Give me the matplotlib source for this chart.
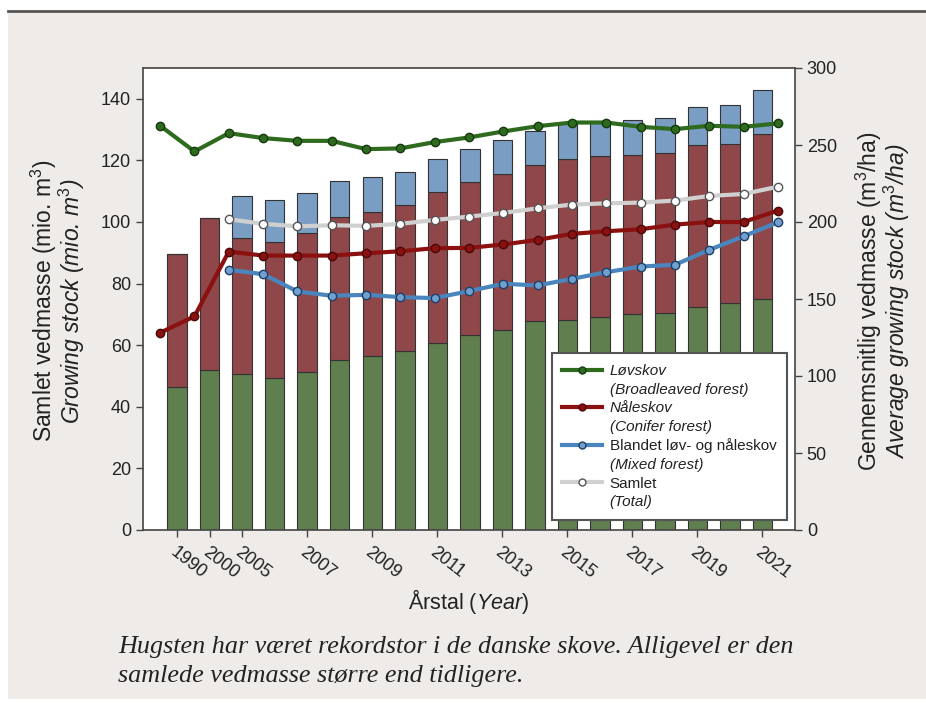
import numpy as np
import matplotlib
matplotlib.use("Agg")
import matplotlib.pyplot as plt
from matplotlib.lines import Line2D
from matplotlib.patches import Rectangle

# data
years = ["1990", "2000", "2005", "2006", "2007", "2008", "2009", "2010", "2011", "2012",
         "2013", "2014", "2015", "2016", "2017", "2018", "2019", "2020", "2021"]
shown = ["1990", "2000", "2005", "2007", "2009", "2011", "2013", "2015", "2017", "2019", "2021"]

# growing stock, mio. m3 (stacked)
broad = [46.4, 52.1, 50.7, 49.5, 51.3, 55.1, 56.4, 58.1, 60.7, 63.2,
         64.8, 67.7, 68.3, 69.1, 70.0, 70.3, 72.4, 73.7, 75.1]
conifer = [43.1, 49.3, 44.0, 44.1, 45.0, 46.4, 46.8, 47.5, 49.2, 49.7,
           50.8, 50.9, 52.1, 52.4, 51.7, 52.0, 52.6, 51.6, 53.6]
mixed = [0, 0, 13.8, 13.6, 13.0, 11.7, 11.5, 10.7, 10.5, 10.8,
         11.0, 10.8, 11.9, 11.0, 11.4, 11.6, 12.2, 12.6, 14.1]

# average growing stock, m3/ha
avg_broad = [262.5, 245.8, 257.7, 254.5, 252.7, 252.7, 247.3, 247.8, 251.9, 254.9,
             258.8, 262.2, 264.6, 264.6, 261.8, 260.3, 262.5, 261.8, 264.0]
avg_conifer = [128.1, 138.7, 180.8, 178.2, 178.2, 178.2, 179.7, 181.0, 183.0, 183.2,
               185.4, 188.4, 192.3, 194.0, 195.3, 198.3, 200.0, 200.0, 207.4]
avg_mixed = [np.nan, np.nan, 169.0, 166.1, 154.9, 152.1, 152.7, 151.2, 150.6, 155.1,
             159.9, 158.8, 163.1, 167.4, 171.1, 172.2, 181.9, 190.7, 199.8]
avg_total = [np.nan, np.nan, 201.8, 198.8, 197.2, 197.9, 197.5, 198.8, 201.3, 203.5,
             205.9, 208.9, 211.3, 212.1, 212.6, 213.9, 216.9, 218.2, 222.9]

plt.rcParams['font.family'] = ['Liberation Sans', 'DejaVu Sans']
plt.rcParams['mathtext.fontset'] = 'custom'
plt.rcParams['mathtext.rm'] = 'Liberation Sans'
plt.rcParams['mathtext.it'] = 'Liberation Sans:italic'

W, H = 926, 703
fig = plt.figure(figsize=(W / 100, H / 100), dpi=100, facecolor='white')

# grey panel with dark rule on top
fig.patches.append(Rectangle((8 / W, 4 / H), 1 - 8 / W, (H - 11 - 4) / H,
                             transform=fig.transFigure, facecolor='#efebe9',
                             edgecolor='none', zorder=-10))
fig.add_artist(Line2D([8 / W, 1], [1 - 11 / H, 1 - 11 / H], transform=fig.transFigure,
                      color='#555555', lw=2))

pos = [143 / W, 1 - 530 / H, (795 - 143) / W, (530 - 68) / H]
ax = fig.add_axes(pos)
ax.set_facecolor('white')
x = np.arange(len(years))
b = np.array(broad)
c = np.array(conifer)
m = np.array(mixed)
kw = dict(width=0.6, edgecolor='#333333', linewidth=0.8)
ax.bar(x, b, color='#5f7f4f', **kw)
ax.bar(x, c, bottom=b, color='#8f4749', **kw)
ax.bar(x, m, bottom=b + c, color='#7a9dc4', **kw)
ax.set_xlim(-1.05, 19)
ax.set_ylim(0, 150)
ax.set_yticks(range(0, 141, 20))
ticks = [years.index(s) for s in shown]
ax.set_xticks(ticks)
ax.set_xticklabels(shown, rotation=-38, ha='left', va='top', rotation_mode='anchor')
ax.tick_params(axis='both', labelsize=13, color='#444444', labelcolor='#222222',
               length=5, width=1)
ax.tick_params(axis='x', pad=5)
for s in ax.spines.values():
    s.set_color('#444444')
    s.set_linewidth(1.2)

ax2 = fig.add_axes(pos, frameon=False)
xi = np.arange(len(years))
ax2.plot(xi, avg_broad, color='#2e6b1f', lw=3, marker='o', ms=6,
         mfc='#2e6b1f', mec='#173a0e', mew=1)
ax2.plot(xi, avg_conifer, color='#8b1010', lw=3, marker='o', ms=6,
         mfc='#8b1010', mec='#4a0808', mew=1)
ax2.plot(xi, avg_mixed, color='#4a86bd', lw=3, marker='o', ms=6,
         mfc='#6fa0cf', mec='#1f3f66', mew=1)
ax2.plot(xi, avg_total, color='#d0d0d0', lw=3, marker='o', ms=6,
         mfc='white', mec='#555555', mew=1)
ax2.set_xlim(-0.5, 18.5)
ax2.set_ylim(0, 300)
ax2.set_xticks([])
ax2.yaxis.tick_right()
ax2.set_yticks(range(0, 301, 50))
ax2.tick_params(axis='y', labelsize=13, color='#444444', labelcolor='#222222',
                length=5, width=1)

# legend: one line per row, second rows without a handle
def h(col, mfc, mec):
    return Line2D([], [], color=col, lw=3, marker='o', ms=5, mfc=mfc, mec=mec, mew=1)
blank = Line2D([], [], linestyle='none')
handles = [h('#2e6b1f', '#2e6b1f', '#173a0e'), blank,
           h('#8b1010', '#8b1010', '#4a0808'), blank,
           h('#4a86bd', '#6fa0cf', '#1f3f66'), blank,
           h('#d0d0d0', 'white', '#555555'), blank]
labels = ["Løvskov", "(Broadleaved forest)", "Nåleskov", "(Conifer forest)",
          "Blandet løv- og nåleskov", "(Mixed forest)", "Samlet", "(Total)"]
leg = ax2.legend(handles, labels, loc='lower right', bbox_to_anchor=(0.988, 0.022),
                 borderaxespad=0, fontsize=11, labelspacing=0.3, handlelength=2.6,
                 handletextpad=0.5, fancybox=False, framealpha=1, edgecolor='#555555',
                 borderpad=0.7)
leg.get_frame().set_linewidth(1.5)
for i, t in enumerate(leg.get_texts()):
    t.set_color('#222222')
    if i not in (4, 6):
        t.set_fontstyle('italic')

# axis titles
cy = 1 - 301 / H
fig.text(44 / W, cy, "Samlet vedmasse (mio. m$^3$)", rotation=90, ha='center',
         va='center', fontsize=16.5, color='#222222')
fig.text(72 / W, cy, "Growing stock (mio. m$^3$)", rotation=90, ha='center',
         va='center', fontsize=16.5, color='#222222', style='italic')
fig.text(869 / W, cy, "Gennemsnitlig vedmasse (m$^3$/ha)", rotation=90, ha='center',
         va='center', fontsize=16.5, color='#222222')
fig.text(897 / W, cy, "Average growing stock (m$^3$/ha)", rotation=90, ha='center',
         va='center', fontsize=16.5, color='#222222', style='italic')
fig.text(469 / W, 1 - 602 / H, "Årstal ($\\it{Year}$)", ha='center', va='center',
         fontsize=15.5, color='#222222')

# caption
cap = ("Hugsten har været rekordstor i de danske skove. Alligevel er den\n"
       "samlede vedmasse større end tidligere.")
fig.text(118 / W, 1 - 636 / H, cap, ha='left', va='top', fontsize=18.8,
         family='Liberation Serif', style='italic', color='#222222', linespacing=1.4)

fig.savefig("out.png", dpi=100, facecolor=fig.get_facecolor())
